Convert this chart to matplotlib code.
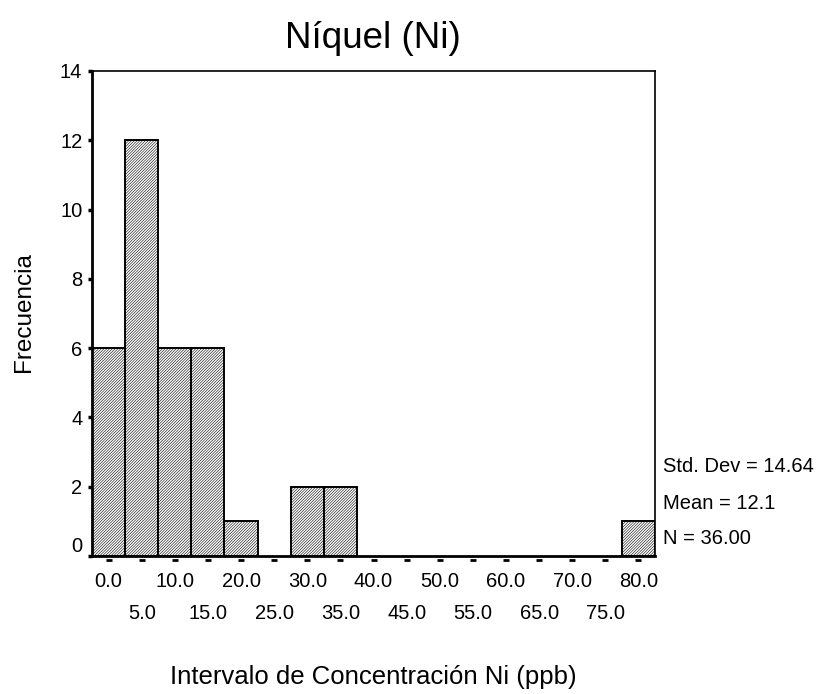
import matplotlib
matplotlib.use("Agg")
import matplotlib.pyplot as plt
import matplotlib.transforms as mtransforms

plt.rcParams['font.family'] = ['Liberation Sans', 'DejaVu Sans']
plt.rcParams['hatch.color'] = '#969696'
plt.rcParams['hatch.linewidth'] = 0.4

# intervalos (centro de clase) y frecuencias
centros = [0.0, 5.0, 10.0, 15.0, 20.0, 25.0, 30.0, 35.0, 40.0,
           45.0, 50.0, 55.0, 60.0, 65.0, 70.0, 75.0, 80.0]
frecuencias = [6, 12, 6, 6, 1, 0, 2, 2, 0, 0, 0, 0, 0, 0, 0, 0, 1]
etiquetas_x = ["0.0", "5.0", "10.0", "15.0", "20.0", "25.0", "30.0", "35.0", "40.0",
               "45.0", "50.0", "55.0", "60.0", "65.0", "70.0", "75.0", "80.0"]
stats = ["Std. Dev = 14.64", "Mean = 12.1", "N = 36.00"]

fig = plt.figure(figsize=(8.23, 6.94), dpi=100)
ax = fig.add_axes([0.1118, 0.1988, 0.6841, 0.6989])

for c, f in zip(centros, frecuencias):
    if f > 0:
        ax.bar(c, f, width=5.0, facecolor='white', edgecolor='black',
               linewidth=1.4, hatch='/' * 12, zorder=2)

ax.set_xlim(-2.5, 82.5)
ax.set_ylim(0, 14)
ax.set_yticks(range(0, 15, 2))
ax.tick_params(axis='y', direction='out', length=3, width=2.5, labelsize=14.5, pad=4)
ax.set_xticks([])
# el cero va un poco por encima de la marca
ax.get_yticklabels()[0].set_va('bottom')

for s in ['top', 'right']:
    ax.spines[s].set_linewidth(1.2)
for s in ['left', 'bottom']:
    ax.spines[s].set_linewidth(2.0)

# marcas de clase como guiones bajo el eje
trans = mtransforms.blended_transform_factory(ax.transData, ax.transAxes)
ax.plot(centros, [-0.008] * len(centros), linestyle='none', marker='_',
        markersize=5, markeredgewidth=2, color='black', transform=trans, clip_on=False)

# etiquetas alternas en dos filas
for i, (c, lab) in enumerate(zip(centros, etiquetas_x)):
    y = -0.052 if i % 2 == 0 else -0.118
    ax.text(c, y, lab, transform=trans, ha='center', va='center', fontsize=14.5)

for y, s in zip([0.184, 0.109, 0.037], stats):
    ax.text(1.015, y, s, transform=ax.transAxes, ha='left', va='center', fontsize=14.5)

fig.text(0.453, 0.945, "Níquel (Ni)", ha='center', va='center', fontsize=26.5)
fig.text(0.453, 0.024, "Intervalo de Concentración Ni (ppb)", ha='center', va='center', fontsize=18.5)
fig.text(0.029, 0.55, "Frecuencia", ha='center', va='center', rotation=90, fontsize=17.5)

fig.savefig("out.png", dpi=100)
